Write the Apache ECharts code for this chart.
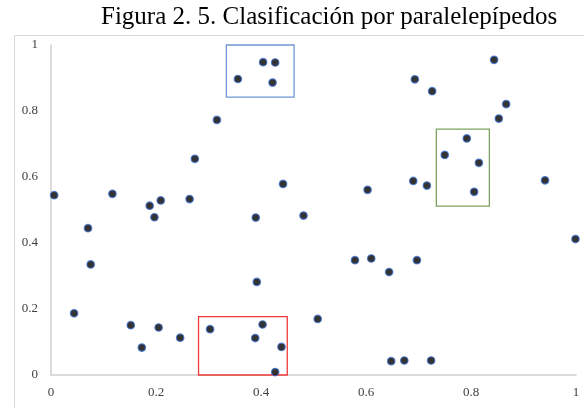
<!DOCTYPE html>
<html>
<head>
<meta charset="utf-8">
<script src="https://cdn.jsdelivr.net/npm/echarts@6/dist/echarts.min.js"></script>
<style>
html,body{margin:0;padding:0;background:#fff;}
#chart{width:584px;height:408px;}
</style>
</head>
<body>
<div id="chart"></div>
<script>
// puntos (x, y)
var xs = [0.356,0.404,0.427,0.422,0.316,0.274,0.442,0.006,0.117,0.188,0.209,0.264,0.197,0.390,
          0.844,0.693,0.726,0.867,0.853,0.792,0.750,0.815,0.690,0.716,0.806,0.941,0.603,0.481,
          0.0705,0.0756,0.044,0.152,0.205,0.173,0.246,0.303,0.392,0.403,0.389,0.439,0.427,
          0.999,0.579,0.610,0.697,0.644,0.508,0.648,0.673,0.724];
var ys = [0.897,0.948,0.947,0.886,0.773,0.655,0.579,0.545,0.549,0.513,0.529,0.533,0.478,0.477,
          0.955,0.896,0.860,0.821,0.777,0.717,0.667,0.643,0.588,0.574,0.555,0.590,0.561,0.483,
          0.445,0.335,0.187,0.151,0.144,0.083,0.113,0.139,0.282,0.153,0.112,0.085,0.009,
          0.412,0.348,0.353,0.348,0.312,0.170,0.042,0.044,0.044];

// cajas: [x0, y0, x1, y1]
var boxBlue = [0.334, 0.842, 0.463, 1.0];
var boxGreen = [0.734, 0.512, 0.835, 0.745];
var boxRed = [0.281, -0.020, 0.450, 0.177];
var boxColors = ['#6f98d8', '#7ea35f', '#f03a3a'];
var xTicks = [0, 0.2, 0.4, 0.6, 0.8, 1];

var points = [];
for (var i = 0; i < xs.length; i++) points.push([xs[i], ys[i]]);

function areaOf(b, color){
	return [{coord:[b[0], b[1]], itemStyle:{color:'rgba(0,0,0,0)', borderColor:color, borderWidth:1.3}},
	        {coord:[b[2], b[3]]}];
}

var myChart = echarts.init(document.getElementById('chart'));
var option = {
	animation: false,
	title: {
		text: 'Figura 2. 5. Clasificación por paralelepípedos',
		left: 96, top: 0,
		textStyle: {fontFamily:'Liberation Serif', fontSize:25, fontWeight:'normal', color:'#000'}
	},
	graphic: [{
		type:'rect', left:12, top:33, silent:true,
		shape:{width:620, height:420},
		style:{fill:'none', stroke:'#d9d9d9', lineWidth:1}
	}],
	grid: {left:51, right:8, top:45, bottom:33},
	xAxis: {
		type:'value', min:0, max:1, interval:0.2,
		axisLine:{show:true, lineStyle:{color:'#d0d0d0', width:1.5}},
		axisTick:{show:false}, splitLine:{show:false},
		axisLabel:{fontFamily:'Liberation Serif', fontSize:13, color:'#404040', margin:11}
	},
	yAxis: {
		type:'value', min:0, max:1, interval:0.2,
		axisLine:{show:true, lineStyle:{color:'#d0d0d0', width:1.5}},
		axisTick:{show:false}, splitLine:{show:false},
		axisLabel:{fontFamily:'Liberation Serif', fontSize:13, color:'#404040', margin:13}
	},
	series: [{
		type:'scatter', symbolSize:7.5, clip:false,
		itemStyle:{color:'#000', borderColor:'#3f72d4', borderWidth:1.2},
		data: points,
		markArea:{silent:true, label:{show:false},
			data:[areaOf(boxBlue, boxColors[0]), areaOf(boxGreen, boxColors[1]), areaOf(boxRed, boxColors[2])]}
	}]
};
myChart.setOption(option);
</script>
</body>
</html>
